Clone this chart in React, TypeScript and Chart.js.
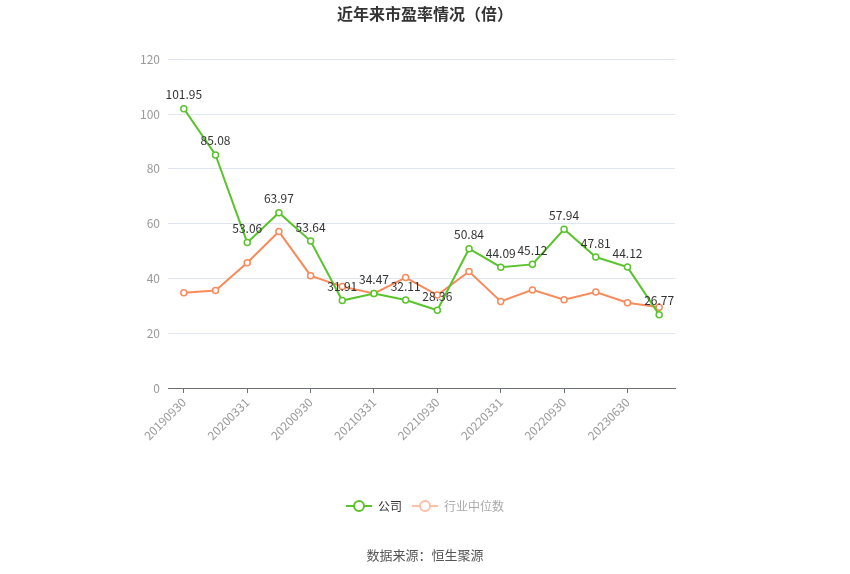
import { useEffect, useRef } from "react"
import { Chart, registerables } from "chart.js"

Chart.register(...registerables)

const periods = [
  "20190930", "20191231", "20200331", "20200630", "20200930", "20201231",
  "20210331", "20210630", "20210930", "20211231", "20220331", "20220630",
  "20220930", "20221231", "20230630", "20230930",
]
const companyPE = [
  101.95, 85.08, 53.06, 63.97, 53.64, 31.91, 34.47, 32.11,
  28.36, 50.84, 44.09, 45.12, 57.94, 47.81, 44.12, 26.77,
]
const industryPE = [
  34.8, 35.6, 45.7, 57.1, 41.0, 37.0, 34.5, 40.3,
  33.9, 42.5, 31.6, 35.8, 32.2, 35.0, 31.1, 29.5,
]
const yTicks = [0, 20, 40, 60, 80, 100, 120]

const GREEN = "#5ac42d"
const ORANGE = "#f98a5b"
const FONT = "'Noto Sans CJK SC', 'Noto Sans', sans-serif"

// legend icon: short line with a hollow circle in the middle
const legendIcon = (color: string) => {
  const c = document.createElement("canvas")
  c.width = 26
  c.height = 14
  const g = c.getContext("2d")!
  g.strokeStyle = color
  g.lineWidth = 2
  g.beginPath()
  g.moveTo(0, 7)
  g.lineTo(26, 7)
  g.stroke()
  g.fillStyle = "#fff"
  g.beginPath()
  g.arc(13, 7, 5, 0, Math.PI * 2)
  g.fill()
  g.stroke()
  return c
}

const valueLabels = {
  id: "valueLabels",
  afterDatasetsDraw(chart: Chart) {
    const ctx = chart.ctx
    const meta = chart.getDatasetMeta(0)
    ctx.save()
    ctx.font = `12px ${FONT}`
    ctx.fillStyle = "#333"
    ctx.textAlign = "center"
    ctx.textBaseline = "bottom"
    meta.data.forEach((pt, i) => {
      ctx.fillText(companyPE[i].toFixed(2), pt.x, pt.y - 8)
    })
    ctx.restore()
  },
}

const sourceNote = {
  id: "sourceNote",
  afterDraw(chart: Chart) {
    const ctx = chart.ctx
    ctx.save()
    ctx.font = `13px ${FONT}`
    ctx.fillStyle = "#555"
    ctx.textAlign = "center"
    ctx.textBaseline = "middle"
    ctx.fillText("数据来源：恒生聚源", 425, 555)
    ctx.restore()
  },
}

export default function App() {
  const canvasRef = useRef<HTMLCanvasElement>(null)

  useEffect(() => {
    document.body.style.margin = "0"
    if (!canvasRef.current) return
    const icons = [legendIcon(GREEN), legendIcon("#fcc0a8")]

    const chart = new Chart(canvasRef.current, {
      type: "line",
      data: {
        labels: periods,
        datasets: [
          {
            label: "公司",
            data: companyPE,
            borderColor: GREEN,
            backgroundColor: "#fff",
            borderWidth: 2,
            pointRadius: 3,
            pointBorderWidth: 1.5,
            pointBackgroundColor: "#fff",
            pointBorderColor: GREEN,
            tension: 0,
          },
          {
            label: "行业中位数",
            data: industryPE,
            borderColor: ORANGE,
            backgroundColor: "#fff",
            borderWidth: 2,
            pointRadius: 3,
            pointBorderWidth: 1.5,
            pointBackgroundColor: "#fff",
            pointBorderColor: ORANGE,
            tension: 0,
          },
        ],
      },
      options: {
        responsive: false,
        animation: false,
        layout: { padding: { left: 0, right: 0, top: 0, bottom: 52 } },
        plugins: {
          title: {
            display: true,
            text: "近年来市盈率情况（倍）",
            color: "#333",
            font: { family: FONT, size: 16, weight: "bold" },
            padding: { top: 4, bottom: 36 },
          },
          legend: {
            position: "bottom",
            labels: {
              usePointStyle: true,
              pointStyleWidth: 26,
              boxHeight: 12,
              padding: 10,
              font: { family: FONT, size: 12 },
              generateLabels: (chart) =>
                chart.data.datasets.map((ds, i) => ({
                  text: ds.label as string,
                  datasetIndex: i,
                  pointStyle: icons[i],
                  fillStyle: "#fff",
                  strokeStyle: "#fff",
                  lineWidth: 0,
                  fontColor: i === 0 ? "#333" : "#aaa",
                  hidden: false,
                })),
            },
          },
          tooltip: { enabled: false },
        },
        scales: {
          x: {
            offset: true,
            afterFit: (s: any) => {
              s.height = 102
            },
            grid: {
              drawOnChartArea: false,
              drawTicks: true,
              tickLength: 5,
              color: "#6e7079",
            },
            border: { display: true, color: "#6e7079", width: 1 },
            ticks: {
              color: "#999",
              font: { family: FONT, size: 12 },
              minRotation: 45,
              maxRotation: 45,
              autoSkip: false,
              padding: 2,
              callback: (_v: any, i: number) => (i % 2 === 0 ? periods[i] : null),
            },
          },
          y: {
            min: yTicks[0],
            max: yTicks[yTicks.length - 1],
            afterFit: (s: any) => {
              s.width = 168
            },
            afterBuildTicks: (s: any) => {
              s.ticks = yTicks.map((v) => ({ value: v }))
            },
            grid: { color: "#e0e6f1", drawTicks: false },
            border: { display: false },
            ticks: {
              color: "#999",
              padding: 8,
              font: { family: FONT, size: 12 },
            },
          },
          // empty right-hand axis that only reserves the blank space
          yRight: {
            position: "right",
            min: 0,
            max: 120,
            afterFit: (s: any) => {
              s.width = 175
            },
            grid: { drawOnChartArea: false, drawTicks: false },
            border: { display: false },
            ticks: { display: false },
          },
        },
      },
      plugins: [valueLabels, sourceNote],
    })

    return () => chart.destroy()
  }, [])

  return (
    <div style={{ width: 850, height: 574, background: "#fff" }}>
      <canvas ref={canvasRef} width={850} height={574} />
    </div>
  )
}
